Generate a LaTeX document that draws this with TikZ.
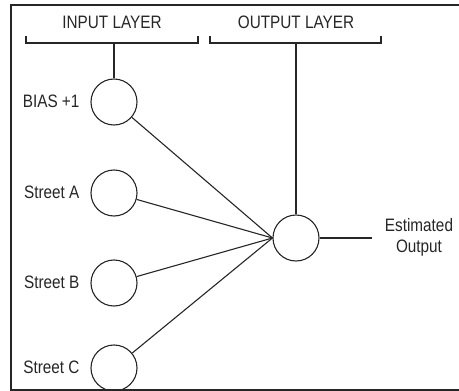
\documentclass[tikz,border=0pt]{standalone}
\usepackage{fontspec}
\setmainfont{Liberation Sans}[FakeStretch=0.85]
\begin{document}
\begin{tikzpicture}[x=1pt,y=-1pt,line width=1.1pt,black!85,font=\fontsize{18}{21}\selectfont,
	neuron/.style={draw,circle,minimum size=46pt,inner sep=0pt},
	lbl/.style={anchor=east,inner sep=0pt}]
	\useasboundingbox (0,0) rectangle (459,391);
	\draw[line width=2pt](460,5)--(11,5)--(11,389.5)--(460,389.5);
	\node (tin) at (112,22){INPUT LAYER};
	\node (tout) at (296,22){OUTPUT LAYER};
	\node[neuron](bias) at (114,102){};
	\node[neuron](stA) at (114,193){};
	\node[neuron](stB) at (114,283){};
	\node[neuron](stC) at (114,368){};
	\node[neuron](out) at (296,238){};
	\node[lbl](tbias) at (80,101){BIAS +1};
	\node[lbl](tA) at (80,192){Street A};
	\node[lbl](tB) at (80,282){Street B};
	\node[lbl](tC) at (80,367){Street C};
	\node[align=center](testim) at (419,237){Estimated\\Output};
	\draw (26,36)--(26,43)--(198,43)--(198,36);
	\draw (210,36)--(210,43)--(381,43)--(381,36);
	\coordinate (bin) at (114,43);
	\coordinate (bout) at (296,43);
	\coordinate (est) at (372,238);
	\draw (bin)--(bias);
	\draw (bout)--(out);
	\foreach \n in {bias,stA,stB,stC} \draw (\n)--(out.west);
	\draw (out)--(est);
\end{tikzpicture}
\end{document}
